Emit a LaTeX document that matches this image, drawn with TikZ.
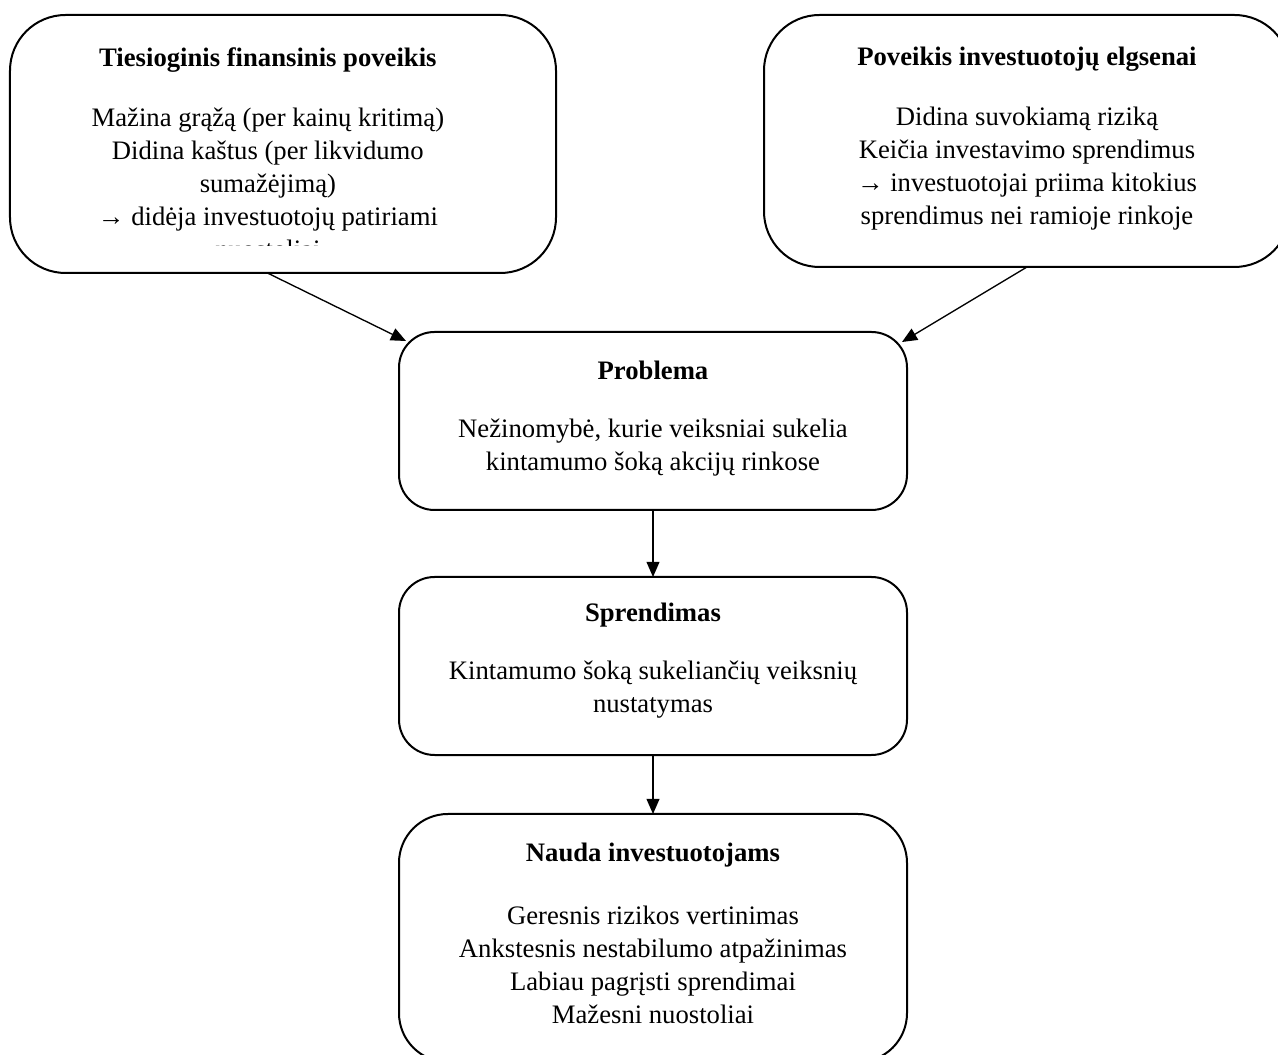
\documentclass[tikz,border=0pt]{standalone}
\usepackage{fontspec}
\setmainfont{Liberation Serif}
\usetikzlibrary{arrows.meta,calc,positioning}

\begin{document}
\begin{tikzpicture}
      [x=0.45pt,y=-0.45pt
      ,rbox/.style={draw,line width=.9pt,rounded corners=#1,inner sep=0pt,outer sep=0pt}
      ,txt/.style={align=center,inner sep=0pt,font=\fontsize{12}{14.85}\selectfont}
      ,arr/.style={line width=.6pt,-{Triangle[length=6.8pt,width=5.8pt]}}
      ]
        \useasboundingbox (0,0) rectangle (1278,1055);
        \clip (0,0) rectangle (1278,1055);
        % boxes
        \node[rbox=25pt,minimum width=245.7pt,minimum height=116.1pt] (tl) at (283,144) {};
        \node[rbox=25pt,minimum width=236.7pt,minimum height=113.4pt] (tr) at (1027,141) {};
        \node[rbox=16pt,minimum width=228.6pt,minimum height=80.1pt] (prob) at (653,421) {};
        \node[rbox=16pt,minimum width=228.6pt,minimum height=80.1pt] (spr) at (653,666) {};
        \node[rbox=22pt,minimum width=228.6pt,minimum height=111.6pt] (nauda) at (653,938) {};
        % texts
        \begin{scope}
          \clip (11,15) rectangle (555,246);
          \node[txt,below=12.9pt of tl.north,xshift=-6.8pt] (tltxt) {\rule{0pt}{10pt}\textbf{Tiesioginis finansinis poveikis}\\[12.15pt]
            Mažina grąžą (per kainų kritimą)\\ Didina kaštus (per likvidumo\\ sumažėjimą)\\
            → didėja investuotojų patiriami\\ nuostoliai};
        \end{scope}
        \node[txt,below=12.5pt of tr.north] (trtxt) {\rule{0pt}{10pt}\textbf{Poveikis investuotojų elgsenai}\\[12.3pt]
          Didina suvokiamą riziką\\ Keičia investavimo sprendimus\\
          → investuotojai priima kitokius\\ sprendimus nei ramioje rinkoje};
        \node[txt,below=11.2pt of prob.north] (probtxt) {\rule{0pt}{10pt}\textbf{Problema}\\[11.4pt]
          Nežinomybė, kurie veiksniai sukelia\\ kintamumo šoką akcijų rinkose};
        \node[txt,below=9.8pt of spr.north] (sprtxt) {\rule{0pt}{10pt}\textbf{Sprendimas}\\[11.4pt]
          Kintamumo šoką sukeliančių veiksnių\\ nustatymas};
        \node[txt,below=11.2pt of nauda.north] (naudatxt) {\rule{0pt}{10pt}\textbf{Nauda investuotojams}\\[13.5pt]
          Geresnis rizikos vertinimas\\ Ankstesnis nestabilumo atpažinimas\\
          Labiau pagrįsti sprendimai\\ Mažesni nuostoliai};
        % arrows
        \draw[arr] ([xshift=-7pt]tl.south) -- ($(prob.north west)+(7,9)$);
        \draw[arr] (tr.south) -- ($(prob.north east)+(-5,10)$);
        \draw[arr] (prob) -- (spr);
        \draw[arr] (spr) -- (nauda);
      \end{tikzpicture}
\end{document}
